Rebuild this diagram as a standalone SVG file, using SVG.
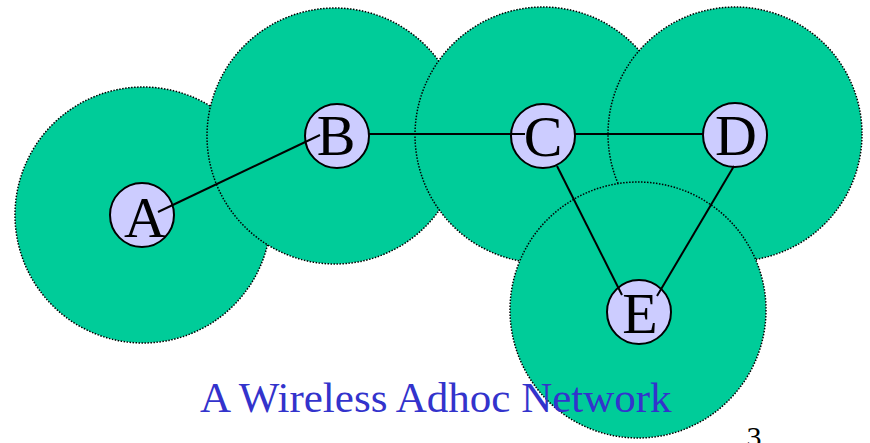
<svg xmlns="http://www.w3.org/2000/svg" width="870" height="443" viewBox="0 0 870 443">
<style>
.range{fill:#00CC99;stroke:#000;stroke-width:1.5;stroke-dasharray:1.5 1.5}
.node{fill:#CCCCFF;stroke:#000;stroke-width:2}
.lbl{font-size:58px;fill:#000;text-anchor:middle}
.link{stroke:#000;stroke-width:2;fill:none}
</style>
<rect width="870" height="443" fill="#fff"/>
<g id="ranges">
<circle class="range" cx="143" cy="215" r="128"/>
<circle class="range" cx="335" cy="136" r="128"/>
<circle class="range" cx="543" cy="135" r="128"/>
<circle class="range" cx="735" cy="134" r="127"/>
<circle class="range" cx="638" cy="310" r="128"/>
</g>
<g id="nodeA"><circle class="node" cx="142" cy="215" r="32"/><text class="lbl" font-family="Liberation Serif, serif" x="145" y="237">A</text></g>
<g id="nodeB"><circle class="node" cx="337" cy="136" r="32"/><text class="lbl" font-family="Liberation Serif, serif" x="336" y="155">B</text></g>
<g id="nodeC"><circle class="node" cx="543" cy="136" r="32"/><text class="lbl" font-family="Liberation Serif, serif" x="543" y="156">C</text></g>
<g id="nodeD"><circle class="node" cx="735" cy="135" r="32"/><text class="lbl" font-family="Liberation Serif, serif" x="736" y="155">D</text></g>
<g id="nodeE"><circle class="node" cx="639" cy="312" r="32"/><text class="lbl" font-family="Liberation Serif, serif" x="640" y="333">E</text></g>
<g id="connectors">
<line class="link" x1="158" y1="212" x2="320" y2="135"/>
<line class="link" x1="369" y1="134" x2="525" y2="134"/>
<line class="link" x1="575" y1="134" x2="703" y2="134"/>
<line class="link" x1="557" y1="166" x2="622" y2="295"/>
<line class="link" x1="734" y1="166" x2="657" y2="296"/>
</g>
<text x="200" y="412" font-family="Liberation Serif, serif" font-size="43" fill="#3333CC">A Wireless Adhoc Network</text>
<text x="754" y="447" font-family="Liberation Serif, serif" font-size="30" fill="#000" text-anchor="middle">3</text>
</svg>
